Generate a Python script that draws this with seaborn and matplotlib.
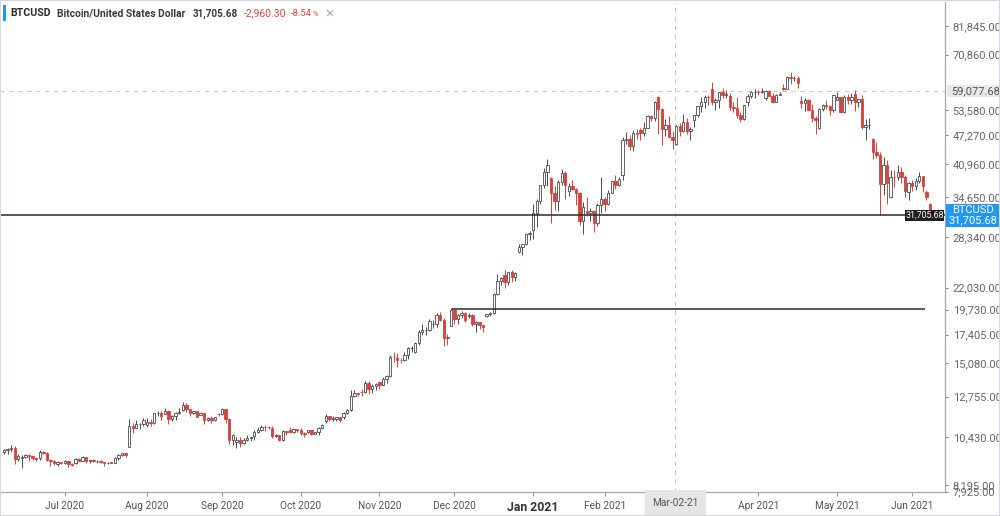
import numpy as np
import pandas as pd
import matplotlib
matplotlib.use("Agg")
import matplotlib.pyplot as plt
import seaborn as sns
from matplotlib import font_manager
from matplotlib.patches import Rectangle
from matplotlib.ticker import FixedLocator, NullLocator


# Data (daily candles, weekdays only; the feed skips Dec 25 and Jan 1)

FIRST_DAY = "2020-06-08"
LAST_DAY = "2021-06-08"
CLOSED_DAYS = ["2020-12-25", "2021-01-01"]

opens = [
    9670, 9760, 9790, 9870, 9320, 9380, 9430, 9520, 9460, 9390, 9360, 9690, 9630, 9300, 9250, 9120, 9190,  # Jun
    9140, 9230, 9090, 9130, 9350, 9250, 9430, 9240, 9300, 9240, 9260, 9190, 9130, 9170, 9160, 9390,
    9540, 9600, 9930, 11000, 10910, 11100, 11110,  # Jul
    11050, 11220, 11190, 11740, 11760, 11700, 11880, 11410, 11580, 11770, 11910, 12250, 11990, 11750,
    11870, 11660, 11750, 11340, 11470, 11320, 11710,  # Aug
    11680, 11970, 11410, 10250, 10170, 10280, 10120, 10250, 10360, 10450, 10680, 10790, 10960, 10950,
    10920, 10460, 10540, 10250, 10750, 10770, 10710, 10840,  # Sep
    10780, 10620, 10670, 10790, 10600, 10670, 10920, 11300, 11560, 11430, 11430, 11500, 11500, 11750,
    11920, 12820, 12990, 13050, 13030, 13650, 13270, 13460,  # Oct
    13740, 13550, 13950, 14130, 15580, 15490, 15310, 15300, 15700, 16280, 15960, 16730, 17650, 17800,
    17820, 18370, 18400, 19170, 18720, 17150, 18180,  # Nov
    19700, 18800, 19200, 19450, 19150, 19190, 18320, 18550, 18260, 19150, 19270, 19440, 21300, 22800,
    23480, 22720, 23830, 23280, 26300, 27080, 27360, 28840,  # Dec
    29400, 31970, 33990, 36820, 39370, 38200, 35500, 34000, 37400, 39150, 35800, 36600, 36070, 35500,
    30800, 32300, 32100, 32300, 30400, 33400,  # Jan
    34300, 33500, 35500, 37600, 36900, 38800, 46200, 46500, 44900, 47900, 48600, 47900, 49100, 52100,
    51550, 57400, 54100, 48900, 49700, 47000,  # Feb
    45200, 49600, 48400, 50500, 48400, 51200, 52300, 54800, 55900, 57300, 59700, 56000, 56400, 58900,
    57800, 57600, 54500, 54300, 52300, 51300, 55800, 57700, 58800,  # Mar
    58800, 58700, 57100, 59100, 57600, 56000, 58000, 60000, 59800, 63500, 62900, 63200, 56100, 55700,
    56500, 53800, 51700, 49000, 54000, 55000, 54900, 53600,  # Apr
    56600, 57200, 53300, 57400, 56400, 58300, 55800, 56700, 49200, 49700, 46400, 43500, 42900, 37000,
    40700, 34700, 38400, 38300, 39300, 38400, 35600,  # May
    37300, 36700, 37600, 38500, 35600, 33600,  # Jun
]

highs = [
    9800, 9880, 9990, 9950, 9560, 9520, 9580, 9560, 9480, 9440, 9760, 9700, 9660, 9330, 9300, 9230, 9200,
    9300, 9260, 9130, 9370, 9370, 9460, 9440, 9300, 9340, 9280, 9270, 9210, 9180, 9190, 9420, 9550,
    9640, 9640, 11400, 11200, 11340, 11170, 11450,
    11480, 11410, 11780, 11900, 11900, 12050, 11930, 11640, 11800, 12060, 12400, 12350, 12010, 11890,
    11880, 11800, 11760, 11530, 11590, 11540, 11770,
    12070, 11980, 11450, 10600, 10400, 10420, 10350, 10500, 10420, 10790, 10930, 11090, 11040, 11030,
    10990, 10560, 10540, 10770, 10760, 10950, 10860, 10850,
    10920, 10660, 10800, 10800, 10690, 10940, 11100, 11690, 11560, 11550, 11540, 11530, 11800, 11990,
    13180, 13170, 13020, 13240, 13770, 13830, 13620, 13690,
    13820, 14050, 14220, 15720, 15960, 15840, 15460, 15940, 16340, 16440, 16800, 17790, 18400, 18110,
    18800, 18750, 19390, 19480, 18920, 17440, 19860,
    19920, 19300, 19570, 19510, 19400, 19290, 18630, 18560, 18270, 19350, 19550, 21460, 23640, 23280,
    24100, 23840, 24090, 23780, 27390, 27390, 28990, 29300,
    33600, 34400, 36900, 40100, 41900, 38300, 36600, 37800, 40000, 39600, 37300, 37800, 36400, 35600,
    33800, 34800, 32900, 32500, 33700, 38400,
    34700, 35900, 37700, 38700, 38300, 46800, 48200, 47300, 48600, 48900, 49000, 50500, 52500, 52500,
    56100, 57500, 54200, 51300, 52000, 48400,
    49800, 50200, 52600, 51700, 49400, 52400, 54900, 57300, 58000, 57800, 61700, 56900, 58900, 60000,
    59400, 58400, 55800, 57200, 53300, 55000, 58300, 59200, 59800,
    59500, 60100, 59500, 59500, 58600, 58100, 58900, 61200, 63700, 64900, 63800, 63600, 57500, 57000,
    56800, 55400, 52100, 54300, 55400, 56400, 55100, 57900,
    58900, 57200, 57900, 58300, 58600, 59500, 56800, 57900, 51300, 51500, 46600, 45700, 43500, 42400,
    41800, 39800, 39700, 40700, 40300, 38800, 37400,
    37900, 38200, 39300, 38600, 36000, 33700,
]

lows = [
    9580, 9580, 9690, 9110, 9250, 8910, 9360, 9260, 9280, 9240, 9300, 9580, 9220, 9010, 9050, 9020, 9090,
    9100, 8950, 9030, 9100, 9220, 9240, 9170, 9140, 9200, 9130, 9160, 9010, 9090, 9130, 9150, 9300,
    9480, 9450, 9900, 10640, 10880, 10840, 10990,
    10950, 11030, 11100, 11600, 11350, 11700, 11150, 11280, 11320, 11690, 11850, 11840, 11590, 11690,
    11500, 11610, 11130, 11280, 11180, 11300, 11600,
    11660, 11200, 10080, 9990, 9880, 9900, 10080, 10200, 10220, 10290, 10640, 10720, 10750, 10830,
    10380, 10400, 10200, 10220, 10550, 10650, 10650, 10700,
    10500, 10410, 10630, 10550, 10580, 10540, 10840, 11200, 11300, 11280, 11290, 11240, 11400, 11690,
    11900, 12720, 12800, 12790, 13010, 12960, 12990, 13200,
    13240, 13540, 13640, 14110, 15200, 14800, 15080, 15290, 15440, 15990, 15870, 16570, 17350, 17340,
    17760, 18020, 18080, 18620, 16440, 16530, 18180,
    18330, 18350, 18930, 18590, 18920, 18220, 17650, 17920, 17610, 19010, 19080, 19300, 21260, 22350,
    22030, 22370, 22700, 22800, 26270, 25990, 27320, 28000,
    28100, 29900, 33500, 36400, 36600, 30500, 32600, 32400, 36800, 34400, 34900, 36000, 33400, 30100,
    28800, 31600, 30800, 29200, 30000, 32000,
    32300, 33400, 35400, 36200, 36600, 37800, 45200, 43900, 43800, 46500, 46300, 47200, 49000, 50900,
    50900, 47700, 45000, 47100, 46700, 44200,
    45000, 47100, 48100, 47500, 46300, 49300, 51900, 53100, 54300, 55100, 55100, 53600, 54200, 57000,
    57000, 53700, 53100, 51700, 50500, 51000, 54700, 57100, 56900,
    57900, 58500, 56500, 57300, 55500, 55800, 57900, 59400, 59600, 61300, 62000, 60000, 54200, 53500,
    53700, 50600, 47500, 48800, 53400, 53900, 52400, 53100,
    56500, 53000, 52900, 55300, 55400, 53500, 54400, 48900, 46300, 48900, 42100, 42300, 31800, 35100,
    33600, 34600, 36500, 37800, 37200, 34800, 34200,
    35700, 35900, 37200, 35600, 34200, 31500,
]

closes = [
    9760, 9790, 9870, 9320, 9470, 9430, 9520, 9460, 9390, 9310, 9690, 9630, 9300, 9250, 9160, 9190, 9140,
    9230, 9090, 9070, 9350, 9250, 9430, 9240, 9290, 9240, 9260, 9190, 9130, 9160, 9160, 9390, 9540,
    9600, 9540, 11000, 10910, 11100, 11110, 11320,
    11220, 11190, 11740, 11760, 11600, 11880, 11410, 11580, 11770, 11770, 12250, 11990, 11750, 11870,
    11520, 11750, 11340, 11470, 11320, 11540, 11680,
    11970, 11410, 10250, 10510, 10280, 10120, 10250, 10360, 10400, 10680, 10790, 10960, 10950, 10940,
    10460, 10540, 10250, 10750, 10690, 10710, 10840, 10780,
    10620, 10570, 10790, 10600, 10670, 10920, 11060, 11560, 11430, 11430, 11500, 11320, 11750, 11920,
    12820, 12990, 12930, 13030, 13650, 13270, 13460, 13560,
    13550, 13950, 14130, 15580, 15570, 15310, 15300, 15700, 16280, 16320, 16730, 17650, 17800, 17820,
    18680, 18400, 19170, 18720, 17150, 17140, 19700,
    18800, 19200, 19450, 18700, 19190, 18320, 18550, 18260, 18060, 19270, 19440, 21300, 22800, 23140,
    22720, 23830, 23280, 23730, 27080, 27360, 28840, 29000,
    31970, 33990, 36820, 39370, 40800, 35500, 34000, 37400, 39150, 36800, 36600, 36070, 35500, 30800,
    33000, 32100, 32300, 30400, 33400, 34300,
    33500, 35500, 37600, 36900, 38000, 46200, 46500, 44900, 47900, 47500, 47900, 49100, 52100, 51550,
    55900, 54100, 48900, 49700, 47000, 46300,
    49600, 48400, 50500, 48400, 48800, 52300, 54800, 55900, 57300, 57200, 56000, 56400, 58900, 57800,
    58300, 54500, 54300, 52300, 51300, 55000, 57700, 58800, 58800,
    58700, 59000, 59100, 57600, 56000, 58000, 58100, 59800, 63500, 62900, 63200, 61500, 55700, 56500,
    53800, 51700, 51200, 54000, 55000, 54900, 53600, 57800,
    57200, 53300, 57400, 56400, 57400, 55800, 56700, 49200, 49700, 49900, 43500, 42900, 37000, 40700,
    37300, 38400, 38300, 39300, 38400, 35700, 37300,
    36700, 37600, 38500, 36700, 34665.98, 31705.68,
]

price_ticks = [7925, 8195, 10430, 12755, 15080, 17405, 19730, 22030,
               28340, 34650, 40960, 47270, 53580, 70860, 81845]

SYMBOL = "BTCUSD"
NAME = "Bitcoin/United States Dollar"
LAST_PRICE = 31705.68
PRICE_CHANGE = -2960.30
PCT_CHANGE = -8.54

CROSS_DAY = "2021-03-02"
CROSS_PRICE = 59077.68

LEVEL_PRICE = 19800
LEVEL_FROM = "2020-12-01"
LEVEL_TO = "2021-06-04"

UP_EDGE = "#4a4a4a"
DOWN_RED = "#d8403b"
BLUE = "#2196f3"
W, H = 1000, 516


sns.set_theme(style="white")
installed = {f.name for f in font_manager.fontManager.ttflist}
narrow = "Liberation Sans Narrow" if "Liberation Sans Narrow" in installed else "Roboto"
plt.rcParams["font.family"] = [narrow, "DejaVu Sans"]

days = pd.bdate_range(FIRST_DAY, LAST_DAY)
days = days[~days.isin(pd.to_datetime(CLOSED_DAYS))]
assert len(days) == len(opens) == len(highs) == len(lows) == len(closes), \
    (len(days), len(opens), len(highs), len(lows), len(closes))

df = pd.DataFrame({"date": days, "open": opens, "high": highs,
                   "low": lows, "close": closes})
df["x"] = np.arange(len(df))
up = (df["close"] >= df["open"]).to_numpy()


def day_x(day):
    return int(df.index[df["date"] == pd.Timestamp(day)][0])


fig = plt.figure(figsize=(W / 100, H / 100), dpi=100)
fig.patch.set_facecolor("white")
ax = fig.add_axes([0.0, 24.4 / H, 945 / W, 489.6 / H])
ax.set_yscale("log")

# candles
edge = np.where(up, UP_EDGE, DOWN_RED)
face = np.where(up, "white", DOWN_RED)
ax.vlines(df["x"], df["low"], df["high"], colors=edge, lw=0.7, zorder=2)
body_lo = df[["open", "close"]].min(axis=1)
body_h = (df["close"] - df["open"]).abs().clip(lower=df["close"] * 0.0015)
ax.bar(df["x"], body_h, bottom=body_lo, width=0.66, color=face,
       edgecolor=edge, linewidth=0.6, zorder=3)

ax.set_xlim(-1.12, 263.2)
ax.set_ylim(7925, 92300)

# drawn levels + crosshair
ax.axhline(LAST_PRICE, color="#2b2b2b", lw=1.1, zorder=4)
ax.hlines(LEVEL_PRICE, day_x(LEVEL_FROM) - 0.6, day_x(LEVEL_TO) + 0.6,
          color="#2b2b2b", lw=1.1, zorder=4)
cross_x = day_x(CROSS_DAY) - 1.2
ax.axvline(cross_x, color="#c9c9c9", lw=0.8, ls=(0, (4, 4)), zorder=1)
ax.axhline(CROSS_PRICE, color="#c9c9c9", lw=0.8, ls=(0, (4, 4)), zorder=1)

# axes styling
sns.despine(ax=ax, left=True, top=True, right=False, bottom=False)
for side in ("right", "bottom"):
    ax.spines[side].set_color("#a8a8a8")
    ax.spines[side].set_linewidth(0.9)

ax.yaxis.tick_right()
ax.yaxis.set_major_locator(FixedLocator(price_ticks))
ax.yaxis.set_minor_locator(NullLocator())
ax.set_yticklabels([f"{t:,.2f}" for t in price_ticks])
ax.tick_params(axis="y", length=2.5, width=0.8, color="#888888",
               labelsize=8, labelcolor="#666666", pad=3, right=True, left=False)

month_first = df.groupby(df["date"].dt.to_period("M"))["x"].min()
month_first = month_first.iloc[1:]
month_first = month_first[month_first.index != pd.Period("2021-03", "M")]
tick_labels = [p.strftime("%b %Y") for p in month_first.index]
ax.set_xticks(month_first.to_numpy())
ax.set_xticklabels(tick_labels)
ax.tick_params(axis="x", length=3, width=0.8, color="#999999",
               labelsize=7.3, labelcolor="#555555", pad=4, bottom=True)
for lab in ax.get_xticklabels():
    if lab.get_text().startswith("Jan"):
        lab.set_fontweight("bold")
        lab.set_fontsize(8.8)
        lab.set_color("#333333")
ax.grid(False)

ax.annotate("Mar-02-21", xy=(cross_x, 0), xycoords=("data", "axes fraction"),
            xytext=(0, -11), textcoords="offset pixels", ha="center", va="center",
            fontsize=7.3, color="#555555", annotation_clip=False,
            bbox=dict(boxstyle="square,pad=0.75", fc="#e6e6e6", ec="none"))


# price boxes on the right axis
def y_frac(price):
    return ax.transData.transform((0, price))[1] / fig.bbox.height


def fig_box(x0, x1, yc, h, color):
    fig.patches.append(Rectangle((x0 / W, yc - h / 2 / H), (x1 - x0) / W, h / H,
                                 transform=fig.transFigure, fc=color, ec="none", zorder=5))


yc = y_frac(CROSS_PRICE)
fig_box(947, 1000, yc, 12, "#e8e8e8")
fig.text(951 / W, yc, f"{CROSS_PRICE:,.2f}", fontsize=8, color="#555555",
         va="center", ha="left", zorder=6)

yc = y_frac(LAST_PRICE)
fig_box(905, 944, yc, 11, "#1e1e1e")
fig.text(924.5 / W, yc, f"{LAST_PRICE:,.2f}", fontsize=6.3, color="white",
         va="center", ha="center", zorder=6)
fig_box(946, 1000, yc, 23, BLUE)
fig.text(973 / W, yc + 5.5 / H, SYMBOL, fontsize=8, color="white",
         va="center", ha="center", zorder=6)
fig.text(973 / W, yc - 5.5 / H, f"{LAST_PRICE:,.2f}", fontsize=8, color="white",
         va="center", ha="center", zorder=6)

# header: each piece is sized to span the same pixels as in the source
fig_box(0, 340, 1 - 13 / H, 22, "white")
fig_box(3, 5.5, 1 - 13 / H, 16, BLUE)
renderer = fig.canvas.get_renderer()
hy = 1 - 13.5 / H


def header_text(s, x0, x1, color, weight="normal"):
    t = fig.text(x0 / W, hy, s, fontsize=9, fontweight=weight, color=color,
                 va="center", zorder=6)
    width = t.get_window_extent(renderer).width
    t.set_fontsize(9 * (x1 - x0) / width)
    return t


header_text(SYMBOL, 10, 50, "#2a2a2a", "bold")
header_text(NAME, 57, 184, "#3a3a3a", "bold")
header_text(f"{LAST_PRICE:,.2f}", 193, 238, "#3a3a3a", "bold")
header_text(f"{PRICE_CHANGE:,.2f}", 244, 287, "#e0443e")
header_text(f"{PCT_CHANGE:.2f}", 291, 312, "#e0443e")
fig.text(312.5 / W, hy - 1 / H, "%", fontsize=5.5, color="#e0443e", va="center", zorder=6)
fig.text(325 / W, hy, "\u00d7", fontsize=11, color="#aaaaaa", va="center", zorder=6)

fig.patches.append(Rectangle((0, 0), 1, 1, transform=fig.transFigure, fill=False,
                             ec="#d3d7de", lw=1.5, zorder=10))

fig.savefig("out.png", dpi=100, facecolor="white")
plt.close(fig)
